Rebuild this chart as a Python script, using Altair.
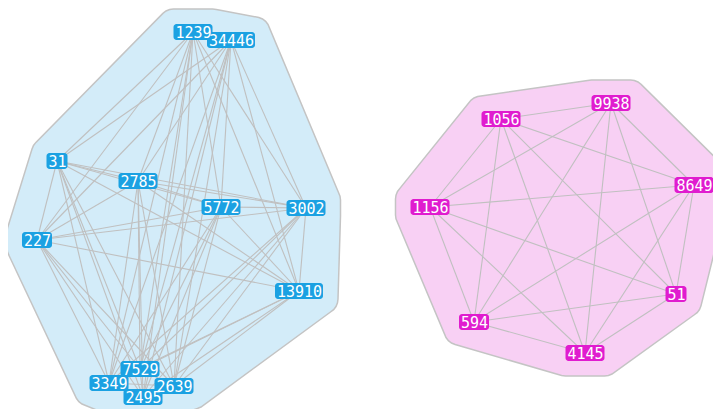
import math
from itertools import combinations
import altair as alt
import pandas as pd

# ---- data ----
labels = ["1239", "34446", "31", "2785", "5772", "3002", "227", "13910",
          "7529", "3349", "2639", "2495",
          "1056", "9938", "8649", "1156", "51", "594", "4145"]
xs = [193, 231, 57, 138, 221, 306, 37, 299, 140, 109, 174, 143,
      501, 611, 694, 430, 676, 474, 585]
ys = [32, 40, 161, 181, 207, 208, 240, 291, 369, 383, 386, 397,
      119, 103, 185, 207, 294, 322, 353]
groups = ["A"] * 12 + ["B"] * 7

group_colors = {"A": "#1ba1e2", "B": "#e01ccf"}
hull_fill = {"A": "#d3ecf9", "B": "#f8d0f4"}

CHAR_W = 9
BOX_H = 16
PAD = 15

nodes = pd.DataFrame({"label": labels, "x": xs, "y": ys, "group": groups})
nodes["w"] = nodes["label"].str.len() * CHAR_W + 3

# edges: every pair of nodes within a cluster
edge_rows = []
for g in ["A", "B"]:
    idx = [i for i in range(len(labels)) if groups[i] == g]
    for a, b in combinations(idx, 2):
        edge_rows.append({"x": xs[a], "y": ys[a], "x2": xs[b], "y2": ys[b], "group": g})
edges = pd.DataFrame(edge_rows)


def hull(points):
    pts = sorted(set(points))
    def cross(o, a, b):
        return (a[0]-o[0])*(b[1]-o[1]) - (a[1]-o[1])*(b[0]-o[0])
    lower, upper = [], []
    for p in pts:
        while len(lower) >= 2 and cross(lower[-2], lower[-1], p) <= 0:
            lower.pop()
        lower.append(p)
    for p in reversed(pts):
        while len(upper) >= 2 and cross(upper[-2], upper[-1], p) <= 0:
            upper.pop()
        upper.append(p)
    return lower[:-1] + upper[:-1]


hull_frames = {}
for g in ["A", "B"]:
    sub = nodes[nodes.group == g]
    pts = []
    for _, r in sub.iterrows():
        for sx in (-1, 1):
            for sy in (-1, 1):
                cx = r.x + sx * r.w / 2
                cy = r.y + sy * BOX_H / 2
                for k in range(24):
                    t = 2 * math.pi * k / 24
                    pts.append((round(cx + PAD * math.cos(t), 2), round(cy + PAD * math.sin(t), 2)))
    h = hull(pts)
    h.append(h[0])
    hull_frames[g] = pd.DataFrame({"x": [p[0] for p in h], "y": [p[1] for p in h],
                                   "i": list(range(len(h)))})

W, H = 705, 401
xs_scale = alt.Scale(domain=[8, 8 + W], nice=False, zero=False)
ys_scale = alt.Scale(domain=[8, 8 + H], nice=False, zero=False, reverse=True)
X = lambda f: alt.X(f, type="quantitative", scale=xs_scale, axis=None)
Y = lambda f: alt.Y(f, type="quantitative", scale=ys_scale, axis=None)

layers = []
for g in ["A", "B"]:
    layers.append(
        alt.Chart(hull_frames[g]).mark_line(
            fill=hull_fill[g], stroke="#c4c4c4", strokeWidth=1.5, interpolate="linear"
        ).encode(x=X("x"), y=Y("y"), order=alt.Order("i:Q"))
    )

layers.append(
    alt.Chart(edges).mark_rule(color="#c0c0c0", strokeWidth=1.1).encode(
        x=X("x"), y=Y("y"), x2="x2:Q", y2="y2:Q"
    )
)

base = alt.Chart(nodes).transform_calculate(
    x1="datum.x - datum.w/2", x2="datum.x + datum.w/2",
    y1="datum.y - 8", y2="datum.y + 8", xt="datum.x - datum.w/2 + 2"
)

layers.append(
    base.mark_rect(cornerRadius=3).encode(
        x=X("x1"), x2="x2:Q", y=Y("y1"), y2="y2:Q",
        color=alt.Color("group:N", scale=alt.Scale(domain=list(group_colors),
                                                   range=list(group_colors.values())),
                        legend=None),
    )
)

layers.append(
    base.mark_text(align="left", baseline="middle", font="DejaVu Sans Mono",
                   fontSize=15, color="white", dy=1).encode(
        x=X("xt"), y=Y("y"), text="label:N"
    )
)

chart = alt.layer(*layers).properties(
    width=W, height=H, padding=0, autosize=alt.AutoSizeParams(type="none")
).configure_view(stroke=None)

chart.save("out.html", embed_options={"renderer": "svg", "actions": False})
